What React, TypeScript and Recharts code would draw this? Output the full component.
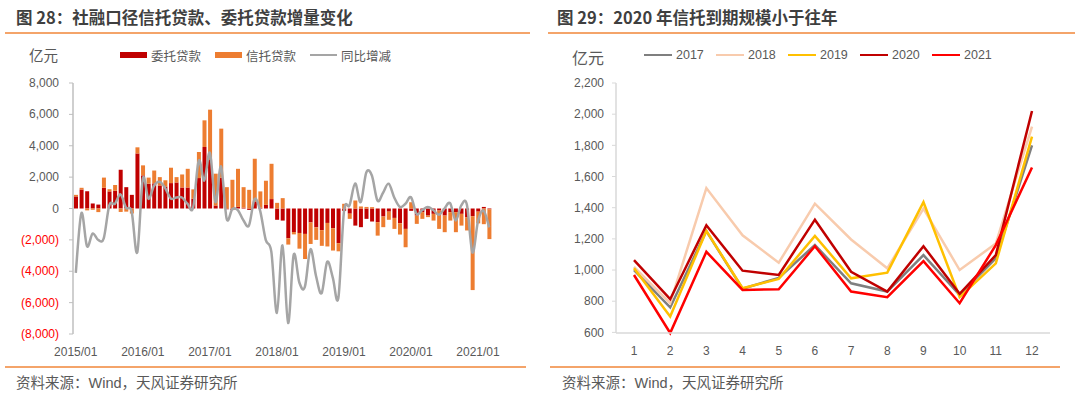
import React from 'react';
import { ComposedChart, LineChart, Bar, Line, XAxis, YAxis } from 'recharts';

// 图28：月份 2015/01 - 2021/03
const months: string[] = [];
for (let y = 2015; y <= 2021; y++) {
  for (let m = 1; m <= 12; m++) {
    if (y === 2021 && m > 3) break;
    months.push(`${y}/${String(m).padStart(2, '0')}`);
  }
}

// 委托贷款（亿元）
const weituo = [
  770, 1210, 1100, 320, 250, 1320, 1090, 1130, 2470, 1360, 870, 3510,
  2110, 1580, 1600, 1470, 1400, 1620, 1660, 1340, 1340, 620, 1940, 3920,
  3130, 190, 1960, -50, -100, 100, 50, -90, 450, 50, 230, 600,
  -720, -770, -1900, -1500, -1560, -1620, -890, -1200, -1380, -920, -1260, -2210,
  -150, -330, -1090, -1190, -660, -830, -870, -510, -200, -600, -940, -1300,
  -150, -450, -230, -450, -340, -130, -450, -230, -230, -340, -550, -490,
  -200, 100, -50,
];

// 信托贷款（亿元）
const xintuo = [
  100, 110, -120, -80, -230, 650, 140, 370, -220, -200, -320, 390,
  640, 390, 820, 530, 400, 980, 340, 830, 1190, 600, 1660, 1700,
  3170, 2030, 3130, 1360, 1830, 2430, 1310, 1190, 2720, 1040, 1540, 2250,
  360, 660, -400, -150, -1000, -1600, -1370, -800, -1000, -1500, -1420, -520,
  300, -330, 510, 130, 100, 85, -860, -680, -520, -700, -720, -1170,
  400, -530, -430, -100, -430, -1170, -1060, -540, -1280, -750, -850, -4710,
  -750, -1000, -1900,
];

// 同比增减（亿元）
const yoy = [
  -4100, -300, -2400, -1600, -2000, -1900, 200, 300, 900, 50, -200, -2800,
  1900, 620, 1450, 1700, 1300, 640, 700, 700, 300, 60, 3050, 1780,
  3550, 400, 2680, -650, -50, -100, -750, -1080, 600, -150, -2000, -2750,
  -6650, -2350, -7300, -2950, -4700, -5000, -2600, -4300, -5400, -3400, -4400, -5700,
  -200, 200, 1600, 400, 2300, 2100, 500, 1000, 1580, 700, 100, 300,
  720, -340, -100, 100, -100, -400, 0, 340, -770, 200, 250, -2800,
  -800, -130, -1200,
];

const leftTicks = [-8000, -6000, -4000, -2000, 0, 2000, 4000, 6000, 8000];

// 图29：信托到期规模（亿元）
const monthNums = ['1', '2', '3', '4', '5', '6', '7', '8', '9', '10', '11', '12'];
const y2017 = [1000, 760, 1250, 880, 950, 1160, 915, 862, 1096, 840, 1075, 1800];
const y2018 = [1020, 787, 1526, 1223, 1047, 1426, 1196, 1011, 1394, 1000, 1170, 1920];
const y2019 = [1011, 702, 1251, 883, 943, 1219, 947, 983, 1436, 826, 1043, 1856];
const y2020 = [1064, 813, 1287, 996, 968, 1323, 989, 862, 1153, 847, 1096, 2020];
const y2021 = [968, 596, 1117, 872, 877, 1153, 862, 826, 1057, 787, 1160, 1658];
const rightTicks = [600, 800, 1000, 1200, 1400, 1600, 1800, 2000, 2200];

const leftData = months.map((m, i) => ({ month: m, weituo: weituo[i], xintuo: xintuo[i], yoy: yoy[i] }));
const rightData = monthNums.map((m, i) => ({
  m, y2017: y2017[i], y2018: y2018[i], y2019: y2019[i], y2020: y2020[i], y2021: y2021[i],
}));

const rightSeries = [
  { key: 'y2017', name: '2017', color: '#7F7F7F' },
  { key: 'y2018', name: '2018', color: '#F8CBAD' },
  { key: 'y2019', name: '2019', color: '#FFC000' },
  { key: 'y2020', name: '2020', color: '#C00000' },
  { key: 'y2021', name: '2021', color: '#FF0000' },
];

const FONT = "'Liberation Sans', 'Noto Sans CJK SC', sans-serif";
const CJK = "'Noto Sans CJK SC', sans-serif";
const GREY = '#595959';
const ORANGE_RULE = '#F4A46A';

// Excel 风格平滑线（Catmull-Rom）
const smoothCurve = (context: any) => {
  let pts: number[][] = [];
  return {
    areaStart() {},
    areaEnd() {},
    lineStart() { pts = []; },
    point(x: number, y: number) { pts.push([+x, +y]); },
    lineEnd() {
      if (!pts.length) return;
      context.moveTo(pts[0][0], pts[0][1]);
      for (let i = 0; i < pts.length - 1; i++) {
        const p0 = pts[i - 1] || pts[i];
        const p1 = pts[i];
        const p2 = pts[i + 1];
        const p3 = pts[i + 2] || p2;
        context.bezierCurveTo(
          p1[0] + (p2[0] - p0[0]) / 6, p1[1] + (p2[1] - p0[1]) / 6,
          p2[0] - (p3[0] - p1[0]) / 6, p2[1] - (p3[1] - p1[1]) / 6,
          p2[0], p2[1],
        );
      }
    },
  };
};

const LeftYTick = (props: any) => {
  const { x, y, payload } = props;
  const v = payload.value as number;
  const neg = v < 0;
  const txt = neg ? `(${Math.abs(v).toLocaleString('en-US')})` : v.toLocaleString('en-US');
  return (
    <text x={x} y={y} dy={4} textAnchor="end" fill={neg ? '#FF0000' : GREY} fontSize={12} fontFamily={FONT}>
      {txt}
    </text>
  );
};

const LegendItem = ({ x, y, color, kind, label, patchW = 28 }: any) => (
  <div style={{ position: 'absolute', left: x, top: y - 10, height: 20, display: 'flex', alignItems: 'center' }}>
    <div
      style={{
        width: patchW,
        height: kind === 'rect' ? 6 : 2.5,
        background: color,
        marginRight: 4,
      }}
    />
    <span style={{ fontSize: 12.5, color: GREY, fontFamily: FONT, whiteSpace: 'nowrap' }}>{label}</span>
  </div>
);

const Rule = ({ x1, x2, y }: any) => (
  <div style={{ position: 'absolute', left: x1, top: y, width: x2 - x1, height: 1.5, background: ORANGE_RULE }} />
);

const Title = ({ x, text }: any) => (
  <div
    style={{
      position: 'absolute', left: x, top: 6, fontSize: 16.5, fontWeight: 700,
      color: '#3F3F3F', fontFamily: CJK, whiteSpace: 'nowrap', lineHeight: '22px',
    }}
  >
    {text}
  </div>
);

const Footer = ({ x }: any) => (
  <div
    style={{
      position: 'absolute', left: x, top: 373, fontSize: 14.5, color: GREY,
      fontFamily: FONT, whiteSpace: 'nowrap', lineHeight: '20px',
    }}
  >
    资料来源：Wind，天风证券研究所
  </div>
);

export default function App() {
  return (
    <div
      style={{
        position: 'absolute', left: 0, top: 0, width: 1080, height: 397,
        background: '#fff', overflow: 'hidden', fontFamily: FONT,
      }}
    >
      {/* 左图 */}
      <div style={{ position: 'absolute', left: 0, top: 0 }}>
        <ComposedChart
          width={540}
          height={397}
          data={leftData}
          stackOffset="sign"
          barSize={4}
          margin={{ top: 83, right: 48, bottom: 33, left: 23 }}
        >
          <XAxis
            dataKey="month"
            interval={11}
            tickLine={false}
            axisLine={false}
            tick={{ fill: GREY, fontSize: 12, fontFamily: FONT }}
            tickMargin={7}
            height={30}
          />
          <YAxis
            domain={[-8000, 8000]}
            ticks={leftTicks}
            interval={0}
            width={50}
            tick={<LeftYTick />}
            tickSize={4}
            tickMargin={10}
            axisLine={{ stroke: '#BFBFBF', strokeWidth: 1.5 }}
            tickLine={{ stroke: '#BFBFBF' }}
          />
          <Bar dataKey="weituo" name="委托贷款" stackId="a" fill="#C00000" isAnimationActive={false} />
          <Bar dataKey="xintuo" name="信托贷款" stackId="a" fill="#ED7D31" isAnimationActive={false} />
          <Line
            dataKey="yoy"
            name="同比增减"
            type={smoothCurve as any}
            stroke="#A5A5A5"
            strokeWidth={2.5}
            dot={false}
            isAnimationActive={false}
          />
        </ComposedChart>
      </div>

      {/* 右图 */}
      <div style={{ position: 'absolute', left: 540, top: 0 }}>
        <LineChart
          width={540}
          height={397}
          data={rightData}
          margin={{ top: 83, right: 30, bottom: 34, left: 22 }}
        >
          <XAxis
            dataKey="m"
            tickLine={false}
            padding={{ left: 18, right: 18 }}
            axisLine={{ stroke: '#D9D9D9', strokeWidth: 1.5 }}
            tick={{ fill: GREY, fontSize: 12, fontFamily: FONT }}
            tickMargin={7}
            height={30}
          />
          <YAxis
            domain={[600, 2200]}
            ticks={rightTicks}
            interval={0}
            width={54}
            tickSize={4}
            tickMargin={8}
            tickFormatter={(v: number) => v.toLocaleString('en-US')}
            tick={{ fill: GREY, fontSize: 12, fontFamily: FONT }}
            axisLine={{ stroke: '#D9D9D9', strokeWidth: 1.5 }}
            tickLine={{ stroke: '#D9D9D9' }}
          />
          {rightSeries.map((s) => (
            <Line
              key={s.key}
              dataKey={s.key}
              name={s.name}
              type="linear"
              stroke={s.color}
              strokeWidth={2.5}
              dot={false}
              isAnimationActive={false}
            />
          ))}
        </LineChart>
      </div>

      {/* 标题与分隔线 */}
      <Title x={16} text="图 28：社融口径信托贷款、委托贷款增量变化" />
      <Title x={557} text="图 29：2020 年信托到期规模小于往年" />
      <Rule x1={5} x2={530} y={32} />
      <Rule x1={548} x2={1075} y={32} />
      <Rule x1={5} x2={526} y={366} />
      <Rule x1={550} x2={1060} y={366} />
      <Footer x={16} />
      <Footer x={562} />

      {/* 单位 */}
      <div style={{ position: 'absolute', left: 29, top: 44, fontSize: 14.5, color: GREY, fontFamily: CJK }}>亿元</div>
      <div style={{ position: 'absolute', left: 572, top: 45, fontSize: 16, color: GREY, fontFamily: CJK }}>亿元</div>

      {/* 图例 */}
      <LegendItem x={120} y={55} color="#C00000" kind="rect" label="委托贷款" patchW={27} />
      <LegendItem x={215} y={55} color="#ED7D31" kind="rect" label="信托贷款" patchW={27} />
      <LegendItem x={310} y={55} color="#A5A5A5" kind="line" label="同比增减" patchW={27} />
      {rightSeries.map((s, i) => (
        <LegendItem key={s.key} x={644 + i * 72} y={55} color={s.color} kind="line" label={s.name} />
      ))}
    </div>
  );
}
